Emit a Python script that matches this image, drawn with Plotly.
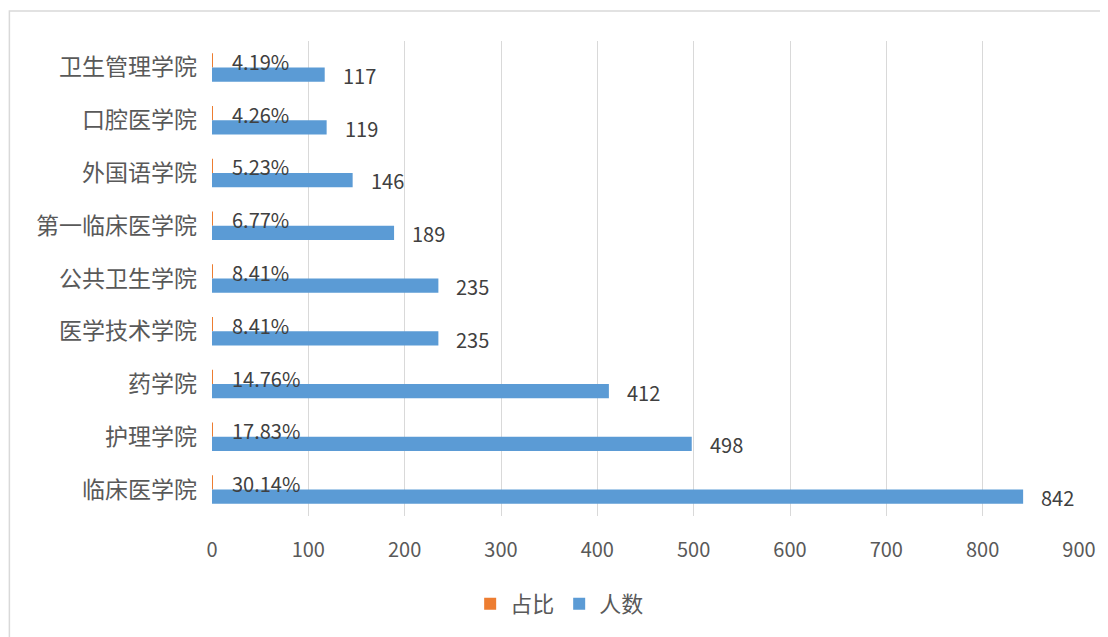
import plotly.graph_objects as go

categories = ["临床医学院", "护理学院", "药学院", "医学技术学院", "公共卫生学院",
              "第一临床医学院", "外国语学院", "口腔医学院", "卫生管理学院"]
counts = [842, 498, 412, 235, 235, 189, 146, 119, 117]
shares = [0.3014, 0.1783, 0.1476, 0.0841, 0.0841, 0.0677, 0.0523, 0.0426, 0.0419]
x_ticks = [0, 100, 200, 300, 400, 500, 600, 700, 800, 900]

FONT = "Noto Sans CJK SC"
BLUE = "#5B9BD5"
ORANGE = "#ED7D31"
W = 0.27

fig = go.Figure()
fig.add_trace(go.Bar(name="占比", y=categories, x=shares, orientation="h",
                     marker=dict(color=ORANGE, line=dict(width=0)),
                     offset=0, width=W))
fig.add_trace(go.Bar(name="人数", y=categories, x=counts, orientation="h",
                     marker=dict(color=BLUE, line=dict(width=0)),
                     offset=-W, width=W))

annotations = []
for c, v, p in zip(categories, counts, shares):
    annotations.append(dict(x=v, y=c, xref="x", yref="y", text=str(v),
                            showarrow=False, xanchor="left", yanchor="middle",
                            xshift=16, yshift=-8,
                            font=dict(family=FONT, size=20, color="#404040")))
    annotations.append(dict(x=p, y=c, xref="x", yref="y", text=f"{p*100:.2f}%",
                            showarrow=False, xanchor="left", yanchor="middle",
                            xshift=18, yshift=6,
                            font=dict(family=FONT, size=20, color="#404040")))

fig.update_layout(
    width=1100, height=629,
    margin=dict(l=204, r=23, t=33, b=119),
    paper_bgcolor="white", plot_bgcolor="white",
    barmode="overlay",
    font=dict(family=FONT, color="#595959"),
    showlegend=True,
    legend=dict(orientation="h", x=0.401, y=-0.185, xanchor="center", yanchor="middle",
                font=dict(family=FONT, size=22, color="#595959"),
                itemwidth=30, tracegroupgap=0),
    annotations=annotations,
    shapes=[dict(type="rect", xref="paper", yref="paper",
                 x0=-0.2337, x1=1.2, y0=-0.5, y1=1.063,
                 line=dict(color="#D9D9D9", width=1.5), layer="below")],
)
fig.update_xaxes(range=[0, 900], tickvals=x_ticks, showgrid=True, gridcolor="#D9D9D9",
                 gridwidth=1, zeroline=False, showline=False,
                 tickfont=dict(family=FONT, size=20, color="#595959"),
                 ticklabelstandoff=20, fixedrange=True)
fig.update_yaxes(type="category", categoryorder="array", categoryarray=categories,
                 showgrid=False, zeroline=False, showline=False,
                 tickfont=dict(family=FONT, size=23, color="#595959"),
                 ticklabelstandoff=14, fixedrange=True)

fig.write_html("out.html")
